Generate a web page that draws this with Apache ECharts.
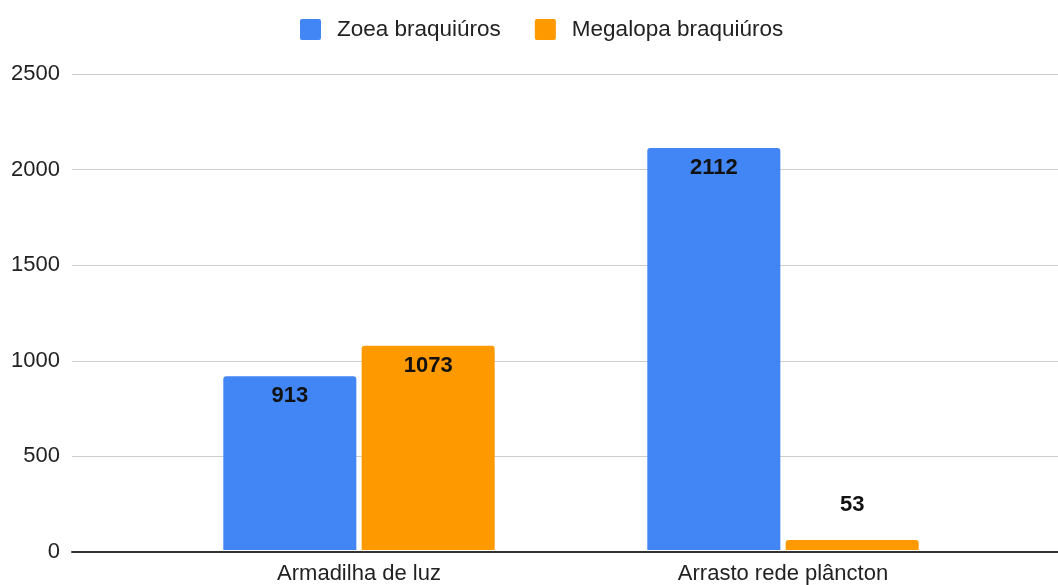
<!DOCTYPE html>
<html>
<head>
<meta charset="utf-8">
<script src="https://cdn.jsdelivr.net/npm/echarts@6/dist/echarts.min.js"></script>
<style>
  html, body { margin: 0; padding: 0; background: #fff; }
  #chart { width: 1058px; height: 585px; }
</style>
</head>
<body>
<div id="chart"></div>
<script>
var categories = ['Armadilha de luz', 'Arrasto rede plâncton']
var seriesNames = ['Zoea braquiúros', 'Megalopa braquiúros']
var zoea = [913, 2112]
var megalopa = [1073, 53]
var yTicks = { min: 0, max: 2500, interval: 500 }

var colorList = ['#4285F4', '#FF9900']
var font = '"Liberation Sans", Arial, sans-serif'

function labelFor(values) {
  // small bars get their label above the bar, like the original
  return values.map(function(v) {
    if (v < 150) {
      return { value: v, label: { position: 'top', distance: 24 } }
    }
    return v
  })
}

var chart = echarts.init(document.getElementById('chart'))
var option = {
  animation: false,
  legend: {
    top: 18,
    left: 300,
    padding: 0,
    itemWidth: 21,
    itemHeight: 21,
    itemGap: 34,
    icon: 'path://M2,0H19A2,2 0 0 1 21,2V19A2,2 0 0 1 19,21H2A2,2 0 0 1 0,19V2A2,2 0 0 1 2,0Z',
    textStyle: { fontSize: 22.5, color: '#222', fontFamily: font, padding: [0, 0, 0, 11] },
    data: seriesNames
  },
  grid: [
    // grid for gridlines and the baseline
    { left: 72, right: 0, top: 74, bottom: 33 },
    // grid for the bars, narrower like the original
    { left: 147, right: 63, top: 74, bottom: 33 }
  ],
  xAxis: [
    {
      gridIndex: 0,
      type: 'category',
      data: [''],
      axisTick: { show: false },
      axisLabel: { show: false },
      axisLine: { show: true, lineStyle: { color: '#333', width: 2 } }
    },
    {
      gridIndex: 1,
      type: 'category',
      data: categories,
      axisTick: { show: false },
      axisLine: { show: false },
      axisLabel: { fontSize: 22, color: '#222', fontFamily: font, margin: 13 }
    }
  ],
  yAxis: [
    {
      gridIndex: 0,
      type: 'value',
      min: yTicks.min,
      max: yTicks.max,
      interval: yTicks.interval,
      axisLabel: {
        fontSize: 22,
        color: '#222',
        fontFamily: font,
        margin: 12,
        formatter: function(v) { return String(v) }
      },
      splitLine: { lineStyle: { color: '#ccc', width: 1 } },
      axisLine: { show: false },
      axisTick: { show: false }
    },
    {
      gridIndex: 1,
      type: 'value',
      min: yTicks.min,
      max: yTicks.max,
      interval: yTicks.interval,
      show: false,
      splitLine: { show: false }
    }
  ],
  series: [
    {
      name: seriesNames[0],
      type: 'bar',
      xAxisIndex: 1,
      yAxisIndex: 1,
      data: labelFor(zoea),
      barGap: '4%',
      barCategoryGap: '36%',
      itemStyle: { color: colorList[0], borderRadius: [3, 3, 0, 0] },
      label: {
        show: true,
        position: 'insideTop',
        distance: 9,
        fontSize: 22,
        fontWeight: 'bold',
        color: '#111',
        fontFamily: font
      }
    },
    {
      name: seriesNames[1],
      type: 'bar',
      xAxisIndex: 1,
      yAxisIndex: 1,
      data: labelFor(megalopa),
      barGap: '4%',
      barCategoryGap: '36%',
      itemStyle: { color: colorList[1], borderRadius: [3, 3, 0, 0] },
      label: {
        show: true,
        position: 'insideTop',
        distance: 9,
        fontSize: 22,
        fontWeight: 'bold',
        color: '#111',
        fontFamily: font
      }
    }
  ]
}
chart.setOption(option)
</script>
</body>
</html>
